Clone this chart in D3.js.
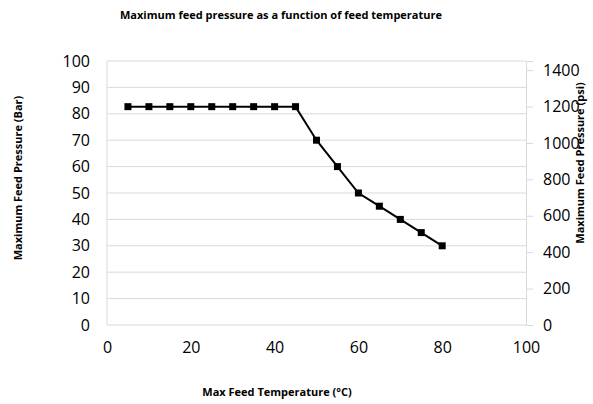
<!DOCTYPE html>
<html>
<head>
<meta charset="UTF-8">
<script src="https://d3js.org/d3.v7.min.js"></script>
<style>
  body { margin: 0; background: #fff; }
  text { font-family: "Open Sans", "Liberation Sans", sans-serif; }
</style>
</head>
<body>
<svg width="593" height="404"></svg>
<script>
// data
const temps = [5, 10, 15, 20, 25, 30, 35, 40, 45, 50, 55, 60, 65, 70, 75, 80];
const pressBar = [82.7, 82.7, 82.7, 82.7, 82.7, 82.7, 82.7, 82.7, 82.7, 70, 60, 50, 45, 40, 35, 30];
const xTicks = [0, 20, 40, 60, 80, 100];
const yTicks = [0, 10, 20, 30, 40, 50, 60, 70, 80, 90, 100];
const psiTicks = [0, 200, 400, 600, 800, 1000, 1200, 1400];

const plotL = 107, plotR = 526, plotT = 61, plotB = 325;

const svg = d3.select('svg');

const x = d3.scaleLinear().domain([0, 100]).range([plotL, plotR]);
const y = d3.scaleLinear().domain([0, 100]).range([plotB, plotT]);
const yPsi = d3.scaleLinear().domain([0, 1450]).range([plotB, plotT]);

// gridlines
svg.append('g')
  .selectAll('line')
  .data(yTicks.slice(1))
  .join('line')
    .attr('x1', plotL).attr('x2', plotR)
    .attr('y1', d => y(d)).attr('y2', d => y(d))
    .attr('stroke', '#d9d9d9').attr('stroke-width', 1);

// axis lines
svg.append('line').attr('x1', plotL).attr('x2', plotL).attr('y1', plotT).attr('y2', plotB)
  .attr('stroke', '#d9d9d9');
svg.append('line').attr('x1', plotL).attr('x2', plotR).attr('y1', plotB).attr('y2', plotB)
  .attr('stroke', '#d9d9d9');

// left axis
const yAxis = svg.append('g')
  .attr('transform', `translate(${plotL},0)`)
  .call(d3.axisLeft(y).tickValues(yTicks).tickSize(0).tickPadding(17));
yAxis.select('.domain').remove();

// right axis
const rAxis = svg.append('g')
  .attr('transform', `translate(${plotR},0)`)
  .call(d3.axisRight(yPsi).tickValues(psiTicks).tickFormat(d3.format('d')).tickSize(7).tickPadding(10));
rAxis.select('.domain').attr('stroke', '#d9d9d9');
rAxis.selectAll('.tick line').attr('stroke', '#d9d9d9');

// bottom axis
const xAxis = svg.append('g')
  .attr('transform', `translate(0,${plotB})`)
  .call(d3.axisBottom(x).tickValues(xTicks).tickSize(0).tickPadding(17));
xAxis.select('.domain').remove();

svg.selectAll('.tick text')
  .attr('font-size', '16px')
  .attr('fill', '#000')
  .style('font-family', '"Open Sans", sans-serif');

// line and markers
const pts = temps.map((t, i) => ({ t: t, p: pressBar[i] }));

svg.append('path')
  .datum(pts)
  .attr('fill', 'none')
  .attr('stroke', '#000')
  .attr('stroke-width', 2)
  .attr('d', d3.line().x(d => x(d.t)).y(d => y(d.p)));

svg.selectAll('rect.mk')
  .data(pts)
  .join('rect')
    .attr('class', 'mk')
    .attr('x', d => x(d.t) - 3.5)
    .attr('y', d => y(d.p) - 3.5)
    .attr('width', 7).attr('height', 7)
    .attr('fill', '#000');

// title and axis titles
svg.append('text')
  .attr('x', 281).attr('y', 19)
  .attr('text-anchor', 'middle')
  .attr('font-size', '11px').attr('font-weight', 'bold')
  .text('Maximum feed pressure as a function of feed temperature');

svg.append('text')
  .attr('transform', 'translate(22,178) rotate(-90)')
  .attr('text-anchor', 'middle')
  .attr('font-size', '11px').attr('font-weight', 'bold')
  .text('Maximum Feed Pressure (Bar)');

svg.append('text')
  .attr('transform', 'translate(584,163) rotate(-90)')
  .attr('text-anchor', 'middle')
  .attr('font-size', '11px').attr('font-weight', 'bold')
  .text('Maximum Feed Pressure (psi)');

svg.append('text')
  .attr('x', 277).attr('y', 396)
  .attr('text-anchor', 'middle')
  .attr('font-size', '11px').attr('font-weight', 'bold')
  .text('Max Feed Temperature (°C)');
</script>
</body>
</html>
